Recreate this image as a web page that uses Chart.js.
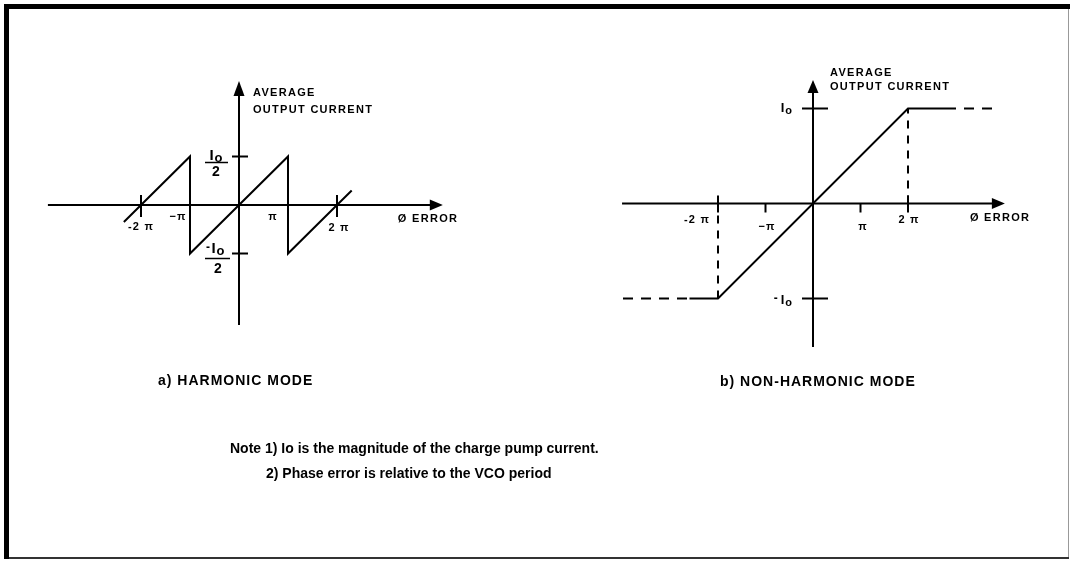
<!DOCTYPE html>
<html><head><meta charset="utf-8">
<script src="https://cdn.jsdelivr.net/npm/chart.js@4.4.1/dist/chart.umd.min.js"></script>
<style>html,body{margin:0;padding:0;background:#fff;overflow:hidden}canvas{display:block}</style>
</head><body>
<canvas id="c" width="1070" height="561"></canvas>
<script>
// ---- data (phase in units of π, current in units of Io) ----
const harmonicPhase   = [-2.35, -1, -1, 0, 1, 1, 2, 2.3];
const harmonicCurrent = [-0.175, 0.5, -0.5, 0, 0.5, -0.5, 0, 0.15];
const linearPhase   = [-2.6, -2, 2, 2.8];
const linearCurrent = [-1, -1, 1, 1];
const satLowPhase    = [-4.0, -2.6];
const satLowCurrent  = [-1, -1];
const satHighPhase   = [2.8, 3.9];
const satHighCurrent = [1, 1];
const edgeLowPhase    = [-2, -2];
const edgeLowCurrent  = [-1, 0];
const edgeHighPhase   = [2, 2];
const edgeHighCurrent = [0, 1];
const phaseTickValues = [-2, -1, 1, 2];
const phaseTickLabels = ['-2 π', '−π', 'π', '2 π'];
const harmonicCurrentTicks = [0.5, -0.5];
const nonHarmonicCurrentTicks = [1, -1];
const yAxisTitle = ['AVERAGE', 'OUTPUT CURRENT'];
const xAxisTitle = 'Ø ERROR';
const captions = ['a) HARMONIC MODE', 'b) NON-HARMONIC MODE'];
const notes = ['Note 1) Io is the magnitude of the charge pump current.', '2) Phase error is relative to the VCO period'];

// ---- layout ----
const W = 1070, H = 561;
const FONT = '"Liberation Sans", Arial, Helvetica, sans-serif';
function xLimits(origin, unit) { return { min: -origin / unit, max: (W - origin) / unit }; }
function yLimits(origin, unit) { return { min: -(H - origin) / unit, max: origin / unit }; }
function zip(xs, ys) { return xs.map((x, i) => ({ x: x, y: ys[i] })); }

function lineDs(xs, ys, xid, yid, dash) {
  return { data: zip(xs, ys), xAxisID: xid, yAxisID: yid, showLine: true, borderColor: '#000',
    backgroundColor: '#000', borderWidth: 2, pointRadius: 0, pointHoverRadius: 0, tension: 0,
    borderJoinStyle: 'miter', borderCapStyle: 'butt', borderDash: dash || [] };
}

function text(ctx, s, x, y, size, align, spacing, baseline) {
  ctx.font = 'bold ' + size + 'px ' + FONT;
  ctx.textAlign = align || 'left';
  ctx.textBaseline = baseline || 'middle';
  try { ctx.letterSpacing = (spacing || 0) + 'px'; } catch (e) {}
  ctx.fillStyle = '#000';
  ctx.fillText(s, x, y);
  try { ctx.letterSpacing = '0px'; } catch (e) {}
}
function arrowRight(ctx, tipX, y, len, half) {
  ctx.beginPath(); ctx.moveTo(tipX, y); ctx.lineTo(tipX - len, y - half); ctx.lineTo(tipX - len, y + half); ctx.closePath(); ctx.fill();
}
function arrowUp(ctx, x, tipY, len, half) {
  ctx.beginPath(); ctx.moveTo(x, tipY); ctx.lineTo(x - half, tipY + len); ctx.lineTo(x + half, tipY + len); ctx.closePath(); ctx.fill();
}
function seg(ctx, x1, y1, x2, y2) { ctx.beginPath(); ctx.moveTo(x1, y1); ctx.lineTo(x2, y2); ctx.stroke(); }

// draw "Io" : capital I and lowered o
function drawIo(ctx, x, baseY, size, align) {
  ctx.font = 'bold ' + size + 'px ' + FONT;
  const wI = ctx.measureText('I').width;
  ctx.font = 'bold ' + (size - 2) + 'px ' + FONT;
  const wo = ctx.measureText('o').width;
  const total = wI + 1 + wo;
  let left = x;
  if (align === 'center') left = x - total / 2;
  if (align === 'right') left = x - total;
  text(ctx, 'I', left, baseY, size, 'left', 0, 'alphabetic');
  text(ctx, 'o', left + wI + 1, baseY + 2, size - 2, 'left', 0, 'alphabetic');
  return left;
}

const diagram = {
  id: 'diagram',
  beforeDraw(chart) {
    const ctx = chart.ctx;
    ctx.save();
    ctx.fillStyle = '#fff'; ctx.fillRect(0, 0, W, H);
    // frame
    ctx.fillStyle = '#000';
    ctx.fillRect(4, 4, 5, 555);
    ctx.fillRect(4, 4, 1066, 5);
    ctx.fillStyle = '#999'; ctx.fillRect(1068, 9, 1, 550);
    ctx.fillStyle = '#333'; ctx.fillRect(9, 557, 1060, 2);
    ctx.restore();
  },
  afterDatasetsDraw(chart) {
    const ctx = chart.ctx;
    const s = chart.scales;
    ctx.save();
    ctx.strokeStyle = '#000'; ctx.fillStyle = '#000'; ctx.lineWidth = 2; ctx.lineCap = 'butt';

    // ---------- left: harmonic ----------
    {
      const xs = s.xA, ys = s.yA;
      const ox = xs.getPixelForValue(0), oy = ys.getPixelForValue(0);
      const xl = xs.getPixelForValue(-3.9), xr = xs.getPixelForValue(4.16);
      const yb = ys.getPixelForValue(-1.237), yt = ys.getPixelForValue(1.278);
      seg(ctx, xl, oy, xr - 10, oy); arrowRight(ctx, xr, oy, 13, 5.5);
      seg(ctx, ox, yb, ox, yt + 10); arrowUp(ctx, ox, yt, 15, 5.5);
      // current ticks
      harmonicCurrentTicks.forEach(v => { const py = ys.getPixelForValue(v); seg(ctx, ox - 7, py, ox + 9, py); });
      // phase ticks at ±2π
      [-2, 2].forEach(v => { const px = xs.getPixelForValue(v); seg(ctx, px, oy - 10, px, oy + 12); });
      // phase labels
      const dx = [0, -12, -15, 2], dy = [22, 12, 12, 23];
      phaseTickValues.forEach((v, i) => text(ctx, phaseTickLabels[i], xs.getPixelForValue(v) + dx[i], oy + dy[i], 11, 'center', 1.2));
      text(ctx, xAxisTitle, xr - 45, oy + 14, 11, 'left', 1.3);
      text(ctx, yAxisTitle[0], ox + 14, yt + 12, 11, 'left', 1.3);
      text(ctx, yAxisTitle[1], ox + 14, yt + 29, 11, 'left', 1.3);
      // Io/2
      const pyTop = ys.getPixelForValue(harmonicCurrentTicks[0]);
      drawIo(ctx, ox - 23, pyTop + 3, 15, 'center');
      ctx.lineWidth = 1.5; seg(ctx, ox - 34, pyTop + 6, ox - 11, pyTop + 6); ctx.lineWidth = 2;
      text(ctx, '2', ox - 23, pyTop + 16, 14, 'center', 0);
      const pyBot = ys.getPixelForValue(harmonicCurrentTicks[1]);
      text(ctx, '-', ox - 31, pyBot - 6, 12, 'center', 0);
      drawIo(ctx, ox - 21, pyBot - 1, 15, 'center');
      ctx.lineWidth = 1.5; seg(ctx, ox - 34, pyBot + 5, ox - 9, pyBot + 5); ctx.lineWidth = 2;
      text(ctx, '2', ox - 21, pyBot + 16, 14, 'center', 0);
    }

    // ---------- right: non-harmonic ----------
    {
      const xs = s.xB, ys = s.yB;
      const ox = xs.getPixelForValue(0), oy = ys.getPixelForValue(0);
      const xl = xs.getPixelForValue(-4.02), xr = xs.getPixelForValue(4.04);
      const yb = ys.getPixelForValue(-1.51), yt = ys.getPixelForValue(1.3);
      seg(ctx, xl, oy, xr - 10, oy); arrowRight(ctx, xr, oy, 13, 5.5);
      seg(ctx, ox, yb, ox, yt + 10); arrowUp(ctx, ox, yt, 13, 5.5);
      nonHarmonicCurrentTicks.forEach(v => { const py = ys.getPixelForValue(v); seg(ctx, ox - 11, py, ox + 15, py); });
      [-2, 2].forEach(v => { const px = xs.getPixelForValue(v); seg(ctx, px, oy - 8, px, oy + 9); });
      [-1, 1].forEach(v => { const px = xs.getPixelForValue(v); seg(ctx, px, oy, px, oy + 9); });
      const dx = [-21, 1.5, 2.5, 1], dy = [16.5, 23.5, 23.5, 16.5];
      phaseTickValues.forEach((v, i) => text(ctx, phaseTickLabels[i], xs.getPixelForValue(v) + dx[i], oy + dy[i], 11, 'center', 1.2));
      text(ctx, xAxisTitle, xr - 35, oy + 14.5, 11, 'left', 1.3);
      text(ctx, yAxisTitle[0], ox + 17, yt - 7, 11, 'left', 1.3);
      text(ctx, yAxisTitle[1], ox + 17, yt + 7, 11, 'left', 1.3);
      const pyTop = ys.getPixelForValue(nonHarmonicCurrentTicks[0]);
      drawIo(ctx, ox - 21, pyTop + 3.5, 13, 'right');
      const pyBot = ys.getPixelForValue(nonHarmonicCurrentTicks[1]);
      const l = drawIo(ctx, ox - 21, pyBot + 5, 13, 'right');
      text(ctx, '-', l - 5, pyBot + 0, 12, 'center', 0);
    }

    // ---------- captions / notes ----------
    text(ctx, captions[0], 158, 381, 14, 'left', 1);
    text(ctx, captions[1], 720, 382, 14, 'left', 1);
    text(ctx, notes[0], 230, 449, 14, 'left', 0);
    text(ctx, notes[1], 266, 474, 14, 'left', 0);
    ctx.restore();
  }
};

new Chart(document.getElementById('c').getContext('2d'), {
  type: 'scatter',
  data: { datasets: [
    lineDs(harmonicPhase, harmonicCurrent, 'xA', 'yA'),
    lineDs(linearPhase, linearCurrent, 'xB', 'yB'),
    lineDs(satLowPhase, satLowCurrent, 'xB', 'yB', [10, 8]),
    lineDs(satHighPhase, satHighCurrent, 'xB', 'yB', [10, 8]),
    lineDs(edgeLowPhase, edgeLowCurrent, 'xB', 'yB', [8, 7]),
    lineDs(edgeHighPhase, edgeHighCurrent, 'xB', 'yB', [8, 7])
  ] },
  options: {
    responsive: false, animation: false, events: [], devicePixelRatio: 1,
    layout: { padding: 0 },
    plugins: { legend: { display: false }, tooltip: { enabled: false }, title: { display: false } },
    scales: {
      xA: Object.assign({ type: 'linear', position: 'bottom', display: false }, xLimits(239, 49)),
      yA: Object.assign({ type: 'linear', position: 'left', display: false }, yLimits(205, 97)),
      xB: Object.assign({ type: 'linear', position: 'bottom', display: false }, xLimits(813, 47.5)),
      yB: Object.assign({ type: 'linear', position: 'left', display: false }, yLimits(203.5, 95))
    }
  },
  plugins: [diagram]
});
</script>
</body></html>
